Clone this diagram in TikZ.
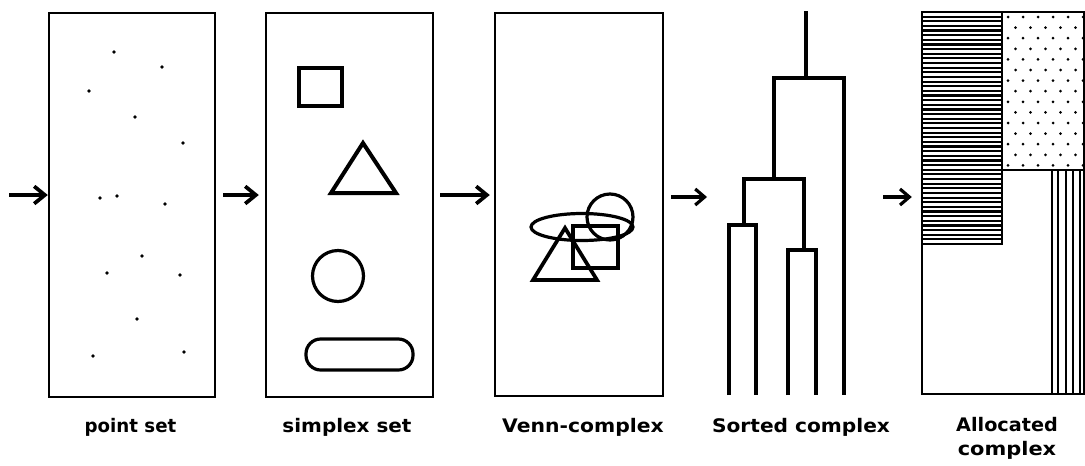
\documentclass[tikz,border=0pt]{standalone}
\usepackage{fontspec}
\usetikzlibrary{arrows.meta}
\newfontfamily\labfont{DejaVu Sans}[BoldFont={DejaVu Sans Bold}]
\tikzset{
  box/.style={draw, line width=1.8pt, inner sep=0pt},
  shp/.style={draw, line width=2.4pt, line join=miter},
  dend/.style={draw, line width=2.6pt, line join=miter},
  arrthick/.style={line width=3.2pt, -{Straight Barb[length=8pt,width=13pt,line width=2.8pt]}},
  arrthin/.style={line width=2.6pt, -{Straight Barb[length=7pt,width=12pt,line width=2.4pt]}},
  lab/.style={anchor=base, inner sep=0pt, font=\labfont\bfseries\fontsize{14pt}{16pt}\selectfont},
}
\newcommand{\wide}[2]{\scalebox{#1}[1]{#2}}
\begin{document}
\begin{tikzpicture}[x=0.75pt, y=-0.75pt]
\useasboundingbox (0,0) rectangle (1085,465);

% boxes
\node[box, minimum width=124.5pt, minimum height=288pt] (b1) at (132,205) {};
\node[box, minimum width=125.25pt, minimum height=288pt] (b2) at (349.5,205) {};
\node[box, minimum width=126pt, minimum height=287.25pt] (b3) at (579,204.5) {};
\node[box, minimum width=121.5pt, minimum height=286.5pt] (alloc) at (1003,203) {};

% point set dots
\foreach \p in {(114,52),(162,67),(89,91),(135,117),(183,143),(100,198),(117,196),(165,204),(142,256),(107,273),(180,275),(137,319),(93,356),(184,352)}
  \fill \p circle (1.9);

% simplex set
\draw[shp] (299,68) rectangle (342,106);
\draw[shp, line width=3pt] (363,143) -- (331,193) -- (396,193) -- cycle;
\draw[shp] (338,276) circle (25.5);
\draw[shp, rounded corners=11pt] (306,339) rectangle (413,370);

% Venn complex
\draw[shp] (582,227) ellipse (51 and 13.5);
\draw[shp] (610,217) circle (23);
\draw[shp] (573,226) rectangle (618,268);
\draw[shp, line width=2.8pt] (565,228) -- (533,280) -- (597,280) -- cycle;

% dendrogram
\draw[dend] (806,11) -- (806,78);
\draw[dend] (774,179) -- (774,78) -- (844,78) -- (844,395);
\draw[dend] (744,225) -- (744,179) -- (804,179) -- (804,250);
\draw[dend] (729,395) -- (729,225) -- (756,225) -- (756,395);
\draw[dend] (788,395) -- (788,250) -- (816,250) -- (816,395);

% allocated complex
\foreach \k in {0,...,49}
  \draw[line width=1.6pt] (922,{12+4.64*\k}) -- (1002,{12+4.64*\k});
\draw[line width=1.8pt] (922,244) -- (1002,244) -- (1002,12);
\draw[line width=1.4pt] (1002,170) -- (1084,170);
\foreach \k in {0,...,14}
  \foreach \j in {0,...,5}
    \fill ({1008+15*\j+7.5*mod(\k,2)},{17+10.6*\k}) circle (1.5);
\foreach \xx in {1052,1058,1066,1073,1080}
  \draw[line width=1.8pt] (\xx,170) -- (\xx,394);

% arrows
\coordinate (s1) at (9,195);
\coordinate (s4) at (671,197);
\coordinate (t4) at (707,197);
\coordinate (s5) at (883,197);
\draw[arrthick] (s1) -- (s1 -| b1.west);
\draw[arrthick, shorten <=5.25pt, shorten >=4.5pt] (b1.east |- s1) -- (b2.west |- s1);
\draw[arrthick, shorten <=4.5pt, shorten >=3pt] (b2.east |- s1) -- (b3.west |- s1);
\draw[arrthin] (s4) -- (t4);
\draw[arrthin, shorten >=6.75pt] (s5) -- (s5 -| alloc.west);

% labels
\node[lab] (l1) at (130.5,432) {\wide{0.975}{point set}};
\node[lab] (l2) at (347,432) {\wide{1.07}{simplex set}};
\node[lab] (l3) at (583,432) {\wide{1.09}{Venn-complex}};
\node[lab] (l4) at (801,432) {\wide{1.08}{Sorted complex}};
\node[lab] (l5) at (1007,431) {\wide{1.03}{Allocated}};
\node[lab] (l6) at (1007,455) {\wide{1.12}{complex}};
\end{tikzpicture}
\end{document}
